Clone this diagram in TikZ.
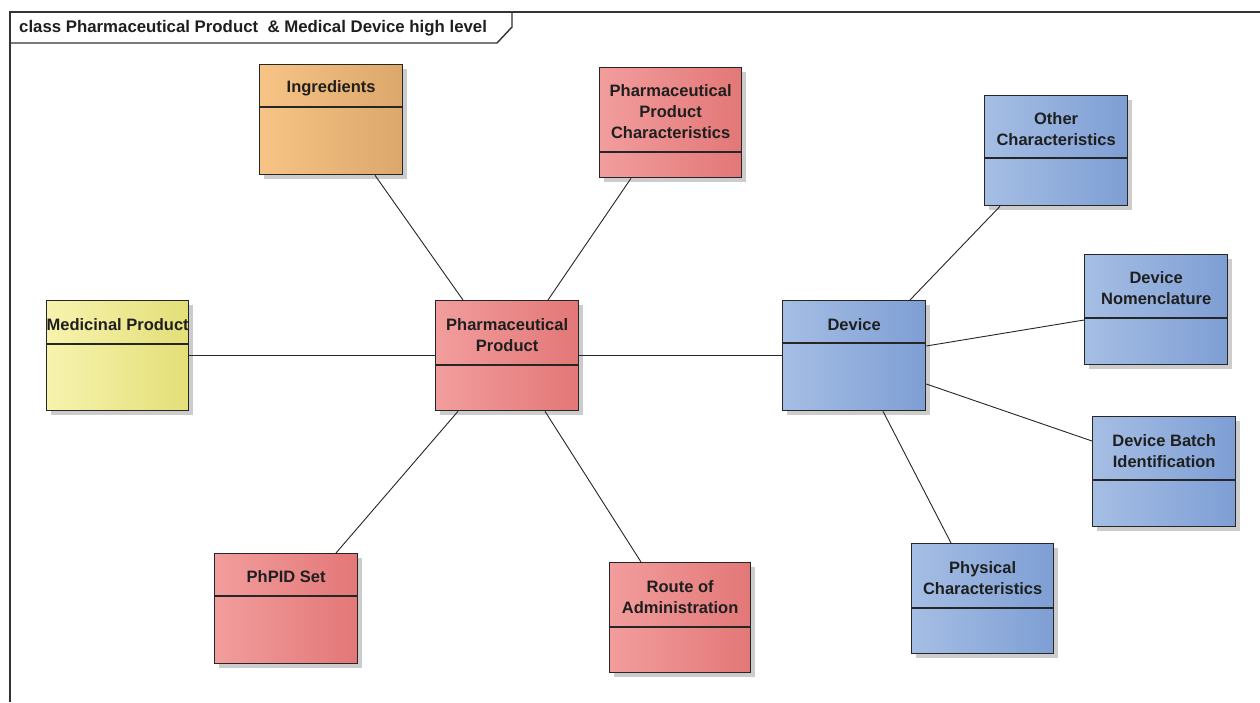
\documentclass[tikz,border=0pt]{standalone}
\usepackage{fontspec}
\setmainfont{Liberation Sans}
\usetikzlibrary{shadows}
\definecolor{redL}{HTML}{F29D9D}
\definecolor{redM}{HTML}{F7A9A9}
\definecolor{redR}{HTML}{E37777}
\definecolor{bluL}{HTML}{A5BEE4}
\definecolor{bluM}{HTML}{AEC6EA}
\definecolor{bluR}{HTML}{7E9ED4}
\definecolor{yelL}{HTML}{F7F3AE}
\definecolor{yelM}{HTML}{FAF7BA}
\definecolor{yelR}{HTML}{E3DF78}
\definecolor{ornL}{HTML}{F7C486}
\definecolor{ornM}{HTML}{FBCA90}
\definecolor{ornR}{HTML}{DCA76A}
\definecolor{edge}{HTML}{262626}
\tikzset{
  cls/.style={draw=edge, line width=1.3pt, minimum width=143pt, minimum height=110pt,
    anchor=north west, inner sep=0pt,
    drop shadow={shadow xshift=4pt, shadow yshift=-4pt, fill=black!20, opacity=1}},
  redcls/.style={cls, left color=redL, middle color=redM, right color=redR},
  blucls/.style={cls, left color=bluL, middle color=bluM, right color=bluR},
  yelcls/.style={cls, left color=yelL, middle color=yelM, right color=yelR},
  orncls/.style={cls, left color=ornL, middle color=ornM, right color=ornR},
  divider/.style={draw=edge, line width=1.3pt},
  lbl/.style={font=\bfseries\fontsize{16.5}{21}\selectfont, align=center, text=black!88, inner sep=0pt},
  link/.style={draw=black!85, line width=0.9pt},
  frame/.style={draw=black!80, line width=1.4pt}
}
\begin{document}
\begin{tikzpicture}[x=1pt,y=-1pt]
\useasboundingbox (0,0) rectangle (1260,702);
\fill[white] (0,0) rectangle (1260,702);

% diagram frame and name tab
\draw[frame] (10,702) -- (10,12) -- (1262,12);
\draw[frame] (10,43) -- (497,43) -- (512,27) -- (512,12);
\node[font=\bfseries\fontsize{16.8}{19}\selectfont, anchor=west, text=black!88, inner sep=0pt] (title) at (19,28)
  {class Pharmaceutical Product \ \& Medical Device high level};

% classes
\node[orncls] (ing) at (259,64) {};
\node[redcls, minimum width=142pt] (ppc) at (599,67) {};
\node[blucls] (oth) at (984,95) {};
\node[yelcls, minimum width=142pt] (mp) at (46,300) {};
\node[redcls] (pp) at (435,300) {};
\node[blucls] (dev) at (782,300) {};
\node[blucls] (nom) at (1084,254) {};
\node[blucls] (bat) at (1092,416) {};
\node[redcls] (phpid) at (214,553) {};
\node[redcls, minimum width=141pt] (route) at (609,562) {};
\node[blucls, minimum width=142pt] (phy) at (911,543) {};

% compartment dividers
\draw[divider] ([yshift=-43pt]ing.north west) -- ([yshift=-43pt]ing.north east);
\draw[divider] ([yshift=-85pt]ppc.north west) -- ([yshift=-85pt]ppc.north east);
\draw[divider] ([yshift=-63pt]oth.north west) -- ([yshift=-63pt]oth.north east);
\draw[divider] ([yshift=-44pt]mp.north west) -- ([yshift=-44pt]mp.north east);
\draw[divider] ([yshift=-65pt]pp.north west) -- ([yshift=-65pt]pp.north east);
\draw[divider] ([yshift=-43pt]dev.north west) -- ([yshift=-43pt]dev.north east);
\draw[divider] ([yshift=-64pt]nom.north west) -- ([yshift=-64pt]nom.north east);
\draw[divider] ([yshift=-64pt]bat.north west) -- ([yshift=-64pt]bat.north east);
\draw[divider] ([yshift=-43pt]phpid.north west) -- ([yshift=-43pt]phpid.north east);
\draw[divider] ([yshift=-65pt]route.north west) -- ([yshift=-65pt]route.north east);
\draw[divider] ([yshift=-65pt]phy.north west) -- ([yshift=-65pt]phy.north east);

% class names
\node[lbl] (ingT) at ([yshift=-24pt]ing.north) {Ingredients};
\node[lbl] (ppcT) at ([yshift=-45pt]ppc.north) {Pharmaceutical\\Product\\Characteristics};
\node[lbl] (othT) at ([yshift=-34.5pt]oth.north) {Other\\Characteristics};
\node[lbl] (mpT) at ([yshift=-25pt]mp.north) {Medicinal Product};
\node[lbl] (ppT) at ([yshift=-35.5pt]pp.north) {Pharmaceutical\\Product};
\node[lbl] (devT) at ([yshift=-25pt]dev.north) {Device};
\node[lbl] (nomT) at ([yshift=-34.5pt]nom.north) {Device\\Nomenclature};
\node[lbl] (batT) at ([yshift=-35pt]bat.north) {Device Batch\\Identification};
\node[lbl] (phpidT) at ([yshift=-24pt]phpid.north) {PhPID Set};
\node[lbl] (routeT) at ([yshift=-35.5pt]route.north) {Route of\\Administration};
\node[lbl] (phyT) at ([yshift=-35.5pt]phy.north) {Physical\\Characteristics};

% associations
\draw[link] ([xshift=116pt]ing.south west) -- ([xshift=28pt]pp.north west);
\draw[link] ([xshift=32pt]ppc.south west) -- ([xshift=113pt]pp.north west);
\draw[link] (mp.east) -- (pp.west);
\draw[link] (pp.east) -- (dev.west);
\draw[link] ([xshift=23pt]pp.south west) -- ([xshift=122pt]phpid.north west);
\draw[link] ([xshift=110pt]pp.south west) -- ([xshift=32pt]route.north west);
\draw[link] ([xshift=128pt]dev.north west) -- ([xshift=16pt]oth.south west);
\draw[link] ([yshift=-46pt]dev.north east) -- ([yshift=-66pt]nom.north west);
\draw[link] ([yshift=-84pt]dev.north east) -- ([yshift=-25pt]bat.north west);
\draw[link] ([xshift=101pt]dev.south west) -- ([xshift=40pt]phy.north west);
\end{tikzpicture}
\end{document}
